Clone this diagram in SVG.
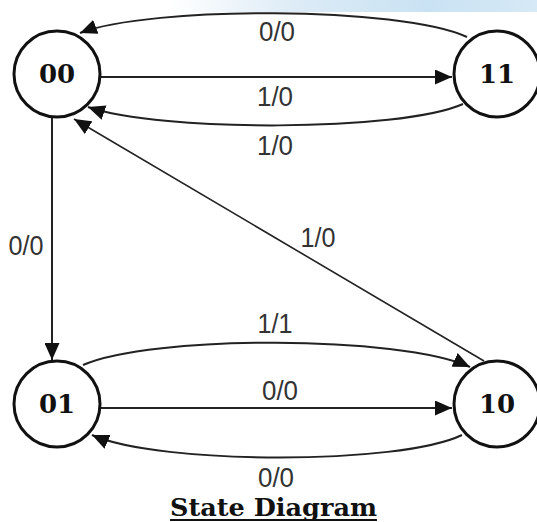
<svg xmlns="http://www.w3.org/2000/svg" width="537" height="522" viewBox="0 0 537 522">
<defs>
<linearGradient id="wm" x1="0" y1="0" x2="1" y2="0">
<stop offset="0" stop-color="#ffffff"/>
<stop offset="0.35" stop-color="#dcebf6"/>
<stop offset="0.7" stop-color="#c9e2f3"/>
<stop offset="1" stop-color="#d6e9f6"/>
</linearGradient>
<marker id="arr" markerWidth="17" markerHeight="15" refX="17" refY="7.5" orient="auto" markerUnits="userSpaceOnUse">
<path d="M0,0 L17,7.5 L0,15 z" fill="#111"/>
</marker>
<style>
.node circle{fill:#fff;stroke:#111;stroke-width:3}
.node text{font-family:"DejaVu Serif","Liberation Serif",serif;font-weight:bold;font-size:26px;fill:#111;text-anchor:middle}
.edge{fill:none;stroke:#222;stroke-width:2;marker-end:url(#arr)}
.lbl{font-family:"Liberation Sans",Arial,sans-serif;font-size:28px;fill:#333;text-anchor:middle}
.title{font-family:"DejaVu Serif","Liberation Serif",serif;font-weight:bold;font-size:25px;fill:#111;text-anchor:middle}
</style>
</defs>
<rect width="537" height="522" fill="#fff"/>
<rect x="170" y="0" width="367" height="12" fill="url(#wm)"/>
<g id="connectors">
<path class="edge" d="M467,37 C400,6 150,6 80,33"/>
<path class="edge" d="M101,77 L452,77"/>
<path class="edge" d="M463,104 C400,132 160,132 88,107"/>
<path class="edge" d="M52,118 L52,360"/>
<path class="edge" d="M484,361 L74,119" style="stroke-width:1.6"/>
<path class="edge" d="M83,365 C150,335 400,335 470,367"/>
<path class="edge" d="M101,408 L452,408"/>
<path class="edge" d="M462,435 C400,465 160,465 92,435"/>
</g>
<g id="labels">
<text class="lbl" x="277" y="41" textLength="36" lengthAdjust="spacingAndGlyphs">0/0</text>
<text class="lbl" x="275" y="106" textLength="36" lengthAdjust="spacingAndGlyphs">1/0</text>
<text class="lbl" x="275" y="155" textLength="36" lengthAdjust="spacingAndGlyphs">1/0</text>
<text class="lbl" x="26" y="255" textLength="35" lengthAdjust="spacingAndGlyphs">0/0</text>
<text class="lbl" x="318" y="247" textLength="35" lengthAdjust="spacingAndGlyphs">1/0</text>
<text class="lbl" x="275" y="333" textLength="35" lengthAdjust="spacingAndGlyphs">1/1</text>
<text class="lbl" x="280" y="400" textLength="36" lengthAdjust="spacingAndGlyphs">0/0</text>
<text class="lbl" x="276" y="487" textLength="36" lengthAdjust="spacingAndGlyphs">0/0</text>
</g>
<g id="node-00" class="node"><circle cx="57" cy="74" r="43"/><text x="57" y="83">00</text></g>
<g id="node-11" class="node"><circle cx="497" cy="74" r="43"/><text x="497" y="83">11</text></g>
<g id="node-01" class="node"><circle cx="57" cy="404" r="43"/><text x="57" y="413">01</text></g>
<g id="node-10" class="node"><circle cx="497" cy="404" r="43"/><text x="497" y="413">10</text></g>
<g id="title">
<text class="title" x="273.5" y="516" textLength="207" lengthAdjust="spacingAndGlyphs">State Diagram</text>
<line x1="170" y1="520" x2="377" y2="520" stroke="#111" stroke-width="2"/>
</g>
</svg>
